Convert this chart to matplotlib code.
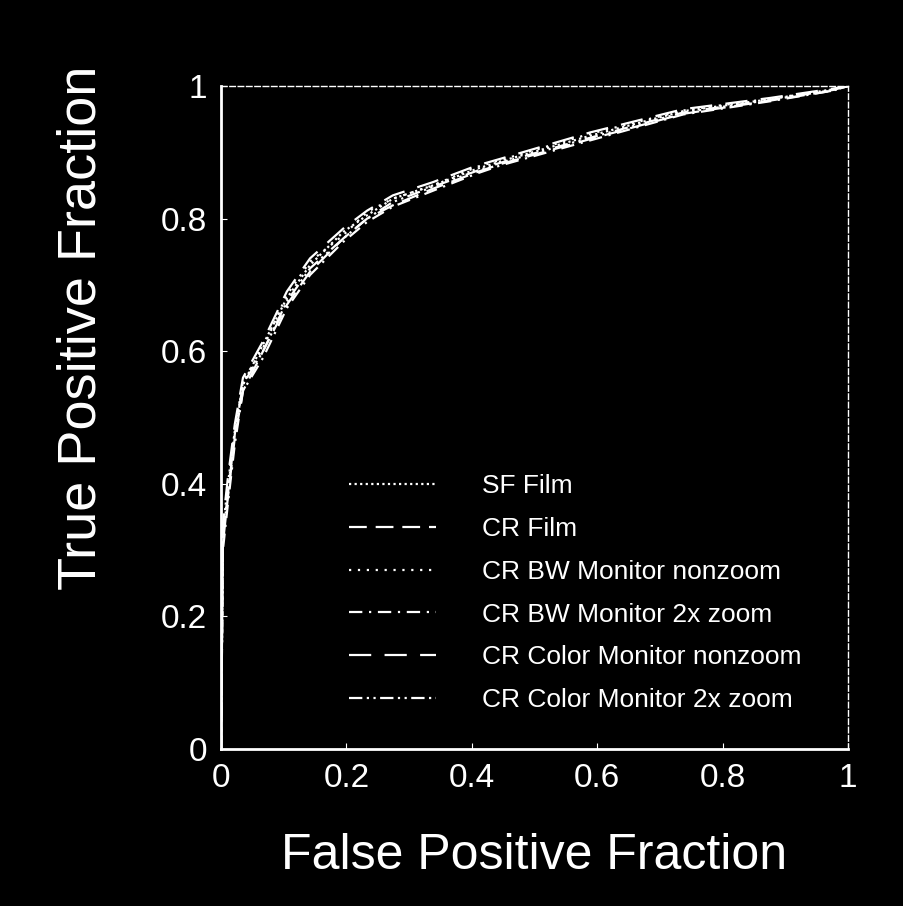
import matplotlib
matplotlib.use("Agg")
import matplotlib.pyplot as plt

plt.rcParams['font.family'] = ['Liberation Sans', 'DejaVu Sans']

fpf = [0, 0.003, 0.011, 0.022, 0.035, 0.067, 0.105, 0.142, 0.195, 0.233,
       0.274, 0.338, 0.408, 0.445, 0.589, 0.737, 0.876, 0.976, 1]
sf_film = [0, 0.33, 0.40, 0.48, 0.55, 0.61, 0.68, 0.73, 0.78, 0.805,
           0.83, 0.85, 0.875, 0.886, 0.925, 0.962, 0.98, 0.995, 1]
cr_film = [0, 0.31, 0.38, 0.47, 0.54, 0.60, 0.67, 0.72, 0.77, 0.80,
           0.82, 0.845, 0.87, 0.882, 0.92, 0.958, 0.978, 0.993, 1]
bw_nonzoom = [0, 0.32, 0.39, 0.48, 0.555, 0.605, 0.685, 0.735, 0.775, 0.81,
              0.83, 0.85, 0.878, 0.888, 0.928, 0.963, 0.981, 0.994, 1]
bw_2x = [0, 0.30, 0.37, 0.46, 0.54, 0.59, 0.665, 0.715, 0.765, 0.795,
         0.818, 0.842, 0.868, 0.88, 0.918, 0.957, 0.977, 0.993, 1]
color_nonzoom = [0, 0.34, 0.41, 0.49, 0.56, 0.615, 0.69, 0.74, 0.785, 0.812,
                 0.835, 0.855, 0.88, 0.89, 0.93, 0.965, 0.982, 0.996, 1]
color_2x = [0, 0.32, 0.385, 0.475, 0.55, 0.60, 0.675, 0.725, 0.77, 0.80,
            0.825, 0.848, 0.872, 0.884, 0.922, 0.96, 0.979, 0.994, 1]

labels = ["SF Film", "CR Film", "CR BW Monitor nonzoom", "CR BW Monitor 2x zoom",
          "CR Color Monitor nonzoom", "CR Color Monitor 2x zoom"]
series = [sf_film, cr_film, bw_nonzoom, bw_2x, color_nonzoom, color_2x]
styles = [(0, (1, 1.5)), (0, (8, 4)), (0, (1, 3)), (0, (6, 3, 1, 3)),
          (0, (10, 6)), (0, (6, 2, 1, 2, 1, 2))]

ticks = [0, 0.2, 0.4, 0.6, 0.8, 1]
tick_labels = ["0", "0.2", "0.4", "0.6", "0.8", "1"]

fig = plt.figure(figsize=(9.04, 9.06), dpi=100, facecolor='black')
ax = fig.add_axes([0.2445, 0.1733, 0.6936, 0.7318], facecolor='black')

for y, lab, ls in zip(series, labels, styles):
    ax.plot(fpf, y, color='white', lw=1.6, ls=ls, label=lab)

ax.set_xlim(0, 1)
ax.set_ylim(0, 1)
ax.set_xticks(ticks)
ax.set_xticklabels(tick_labels)
ax.set_yticks(ticks)
ax.set_yticklabels(tick_labels)
ax.tick_params(colors='white', labelsize=24, direction='in', length=4, pad=10)

for side in ['left', 'bottom']:
    ax.spines[side].set_color('white')
    ax.spines[side].set_linewidth(2)
for side in ['top', 'right']:
    ax.spines[side].set_color('white')
    ax.spines[side].set_linewidth(1)
    ax.spines[side].set_linestyle((0, (4, 2)))

ax.set_xlabel("False Positive Fraction", color='white', fontsize=36)
ax.xaxis.set_label_coords(0.5, -0.127)
ax.set_ylabel("True Positive Fraction", color='white', fontsize=39)
ax.yaxis.set_label_coords(-0.183, 0.635)

leg = ax.legend(loc='upper left', bbox_to_anchor=(0.166, 0.45), frameon=False,
                fontsize=19, handlelength=3.3, labelspacing=0.71, handletextpad=1.75)
for t in leg.get_texts():
    t.set_color('white')

fig.savefig("out.png", dpi=100, facecolor='black')
